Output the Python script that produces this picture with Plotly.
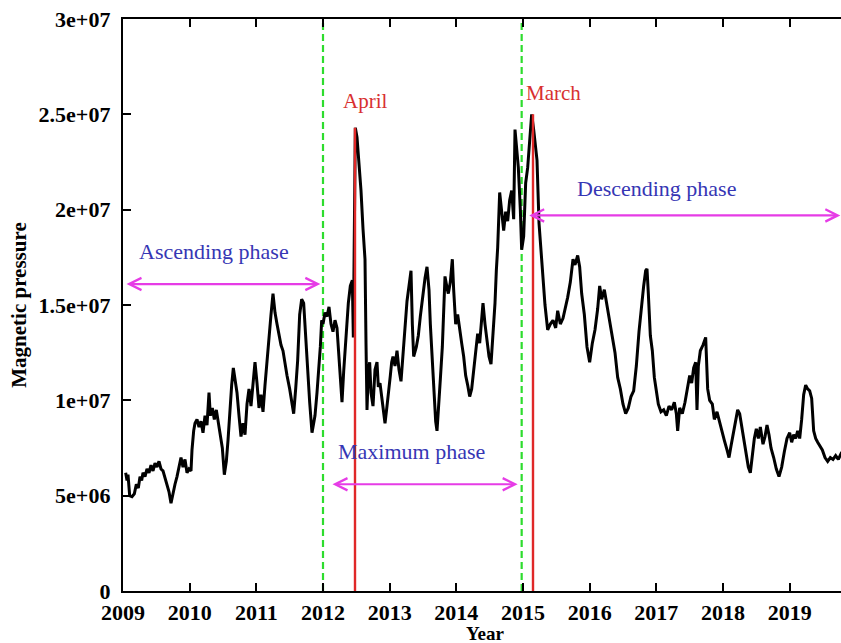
import plotly.graph_objects as go

# Magnetic pressure time series (year, value in units of 1e6)
years = [
    2009.04, 2009.06, 2009.075, 2009.10, 2009.135, 2009.17, 2009.20, 2009.23, 2009.255, 2009.28,
    2009.30, 2009.33, 2009.36, 2009.39, 2009.42, 2009.45, 2009.48, 2009.51, 2009.54, 2009.57,
    2009.60, 2009.63, 2009.66, 2009.69, 2009.72, 2009.75, 2009.78, 2009.81, 2009.84, 2009.87,
    2009.90, 2009.93, 2009.96, 2009.99, 2010.02, 2010.035, 2010.06, 2010.08, 2010.11, 2010.14,
    2010.17, 2010.20, 2010.23, 2010.26, 2010.29, 2010.31, 2010.34, 2010.37, 2010.40, 2010.43,
    2010.46, 2010.49, 2010.52, 2010.55, 2010.575, 2010.60, 2010.63, 2010.655, 2010.68, 2010.71,
    2010.74, 2010.77, 2010.80, 2010.83, 2010.86, 2010.89, 2010.92, 2010.95, 2010.98, 2011.01,
    2011.04, 2011.07, 2011.10, 2011.13, 2011.16, 2011.19, 2011.22, 2011.25, 2011.28, 2011.31,
    2011.34, 2011.37, 2011.40, 2011.43, 2011.46, 2011.50, 2011.53, 2011.56, 2011.59, 2011.62,
    2011.65, 2011.68, 2011.71, 2011.74, 2011.77, 2011.80, 2011.835, 2011.86, 2011.88, 2011.91,
    2011.94, 2011.96, 2011.98, 2012.00, 2012.03, 2012.06, 2012.09, 2012.12, 2012.15, 2012.18,
    2012.21, 2012.24, 2012.26, 2012.285, 2012.31, 2012.33, 2012.355, 2012.38, 2012.41, 2012.44,
    2012.455, 2012.47, 2012.485, 2012.51, 2012.54, 2012.57, 2012.60, 2012.63, 2012.645, 2012.66,
    2012.68, 2012.70, 2012.72, 2012.75, 2012.78, 2012.81, 2012.83, 2012.855, 2012.88, 2012.91,
    2012.93, 2012.96, 2012.98, 2013.01, 2013.03, 2013.05, 2013.08, 2013.11, 2013.14, 2013.17,
    2013.20, 2013.23, 2013.26, 2013.29, 2013.32, 2013.34, 2013.36, 2013.40, 2013.43, 2013.46,
    2013.50, 2013.53, 2013.56, 2013.59, 2013.61, 2013.64, 2013.66, 2013.69, 2013.71, 2013.74,
    2013.76, 2013.79, 2013.81, 2013.83, 2013.86, 2013.88, 2013.91, 2013.94, 2013.96, 2013.99,
    2014.02, 2014.05, 2014.08, 2014.11, 2014.14, 2014.17, 2014.20, 2014.23, 2014.26, 2014.29,
    2014.32, 2014.35, 2014.38, 2014.40, 2014.43, 2014.46, 2014.49, 2014.52, 2014.55, 2014.58,
    2014.60, 2014.62, 2014.65, 2014.68, 2014.71, 2014.74, 2014.77, 2014.80, 2014.83, 2014.86,
    2014.88, 2014.91, 2014.93, 2014.96, 2014.98, 2015.01, 2015.04, 2015.07, 2015.10, 2015.13,
    2015.16, 2015.18, 2015.21, 2015.24, 2015.27, 2015.30, 2015.33, 2015.37, 2015.41, 2015.45,
    2015.49, 2015.52, 2015.56, 2015.60, 2015.64, 2015.67, 2015.71, 2015.75, 2015.78, 2015.82,
    2015.85, 2015.88, 2015.92, 2015.96, 2016.00, 2016.04, 2016.08, 2016.12, 2016.15, 2016.18,
    2016.22, 2016.26, 2016.30, 2016.34, 2016.38, 2016.42, 2016.46, 2016.50, 2016.54, 2016.58,
    2016.62, 2016.66, 2016.70, 2016.74, 2016.78, 2016.81, 2016.84, 2016.86, 2016.88, 2016.91,
    2016.94, 2016.97, 2017.00, 2017.03, 2017.07, 2017.11, 2017.15, 2017.19, 2017.23, 2017.27,
    2017.30, 2017.32, 2017.35, 2017.39, 2017.43, 2017.47, 2017.50, 2017.53, 2017.56, 2017.59,
    2017.61, 2017.63, 2017.66, 2017.70, 2017.74, 2017.77, 2017.80, 2017.84, 2017.87, 2017.91,
    2017.95, 2017.98, 2018.02, 2018.06, 2018.09, 2018.12, 2018.15, 2018.19, 2018.22, 2018.25,
    2018.28, 2018.31, 2018.34, 2018.38, 2018.41, 2018.44, 2018.47, 2018.50, 2018.53, 2018.56,
    2018.60, 2018.63, 2018.66, 2018.69, 2018.72, 2018.76, 2018.80, 2018.84, 2018.88, 2018.92,
    2018.96, 2019.00, 2019.03, 2019.06, 2019.09, 2019.12, 2019.15, 2019.18, 2019.21, 2019.24,
    2019.27, 2019.30, 2019.33, 2019.36, 2019.39, 2019.42, 2019.45, 2019.49, 2019.53, 2019.57,
    2019.61, 2019.65, 2019.69, 2019.73, 2019.77, 2019.80,
]

pressure_millions = [
    6.2, 5.8, 6.1, 5.0, 4.95, 5.1, 5.6, 5.4, 6.0, 5.8,
    6.2, 6.0, 6.4, 6.2, 6.6, 6.3, 6.7, 6.5, 6.8, 6.4,
    6.3, 5.9, 5.6, 5.2, 4.6, 5.2, 5.6, 6.0, 6.6, 7.0,
    6.5, 6.9, 6.2, 6.4, 6.3, 7.4, 8.4, 8.8, 9.0, 8.6,
    8.9, 8.3, 9.2, 8.7, 10.4, 9.2, 9.6, 9.0, 9.5, 8.9,
    8.2, 7.5, 6.1, 6.8, 7.9, 9.5, 10.8, 11.7, 11.2, 10.4,
    9.2, 8.1, 8.8, 8.2, 9.8, 10.6, 9.7, 11.0, 12.0, 10.9,
    9.6, 10.3, 9.4, 10.8, 12.1, 13.6, 14.5, 15.6, 14.6, 14.0,
    13.4, 12.9, 12.6, 11.8, 11.3, 10.6, 9.8, 9.3, 10.6, 12.1,
    14.5, 15.3, 15.1, 13.2, 11.4, 9.9, 8.3, 8.7, 9.2, 10.4,
    11.8, 12.8, 14.2, 14.0, 14.6, 14.4, 14.9, 14.0, 13.6, 14.2,
    13.8, 12.0, 10.8, 9.9, 11.5, 12.6, 14.0, 15.1, 16.0, 16.3,
    13.3, 22.0, 24.3, 23.8, 22.6, 21.0, 19.0, 17.4, 13.0, 9.5,
    11.5, 12.0, 10.4, 9.7, 11.6, 12.0, 10.7, 10.9, 10.2, 9.3,
    8.8, 9.7, 10.5, 11.3, 12.0, 12.3, 11.8, 12.6, 11.6, 11.0,
    12.4, 14.0, 15.2, 16.0, 16.8, 14.0, 12.3, 12.8, 13.4, 14.4,
    15.6, 16.4, 17.0, 15.8, 14.0, 12.0, 10.2, 8.9, 8.4, 9.8,
    11.1, 12.8, 15.0, 16.5, 15.9, 15.6, 16.2, 17.4, 15.8, 14.0,
    14.5, 13.6, 13.0, 12.3, 11.3, 10.8, 10.2, 10.6, 11.6, 12.3,
    13.5, 13.0, 14.2, 15.1, 14.0, 13.0, 12.3, 11.9, 13.5, 15.1,
    16.8, 18.0, 20.9, 19.8, 18.9, 19.9, 19.4, 20.5, 21.0, 19.5,
    24.2, 23.0, 22.2, 20.0, 17.9, 18.6, 21.4, 22.2, 23.8, 25.0,
    24.2, 23.5, 22.6, 19.3, 17.8, 16.5, 15.0, 13.7, 14.0, 14.2,
    13.8, 14.7, 14.0, 14.3, 14.9, 15.4, 16.2, 17.4, 17.1, 17.6,
    17.0, 15.6, 14.5, 12.8, 12.0, 13.0, 13.7, 14.8, 16.0, 15.3,
    15.8, 15.0, 14.0, 13.2, 12.5, 11.2, 10.6, 9.8, 9.3, 9.6,
    10.2, 10.5, 11.8, 13.6, 15.2, 16.0, 16.8, 16.9, 15.6, 13.4,
    12.6, 11.2, 10.5, 9.8, 9.4, 9.5, 9.2, 9.7, 9.5, 9.9,
    9.3, 8.4, 9.6, 9.3, 9.9, 10.6, 11.3, 10.9, 11.7, 12.0,
    9.5, 11.8, 12.6, 12.9, 13.3, 10.6, 10.0, 9.8, 9.0, 9.4,
    8.8, 8.4, 7.9, 7.4, 7.0, 7.6, 8.2, 8.9, 9.5, 9.3,
    8.6, 8.0, 7.2, 6.5, 6.2, 7.2, 8.0, 8.5, 8.0, 8.6,
    7.7, 8.1, 8.7, 8.2, 7.5, 7.0, 6.4, 6.0, 6.5, 7.3,
    8.0, 8.3, 7.8, 8.2, 8.0, 8.4, 8.0, 9.0, 10.3, 10.8,
    10.6, 10.5, 10.1, 8.4, 8.0, 7.8, 7.6, 7.4, 7.0, 6.8,
    7.0, 6.9, 7.1, 6.9, 7.2, 7.1,
]
pressure = [v * 1e6 for v in pressure_millions]

# Phase boundaries (green dashed) and peak months (red)
phase_bounds = [2012.0, 2014.98]
peak_years = [2012.48, 2015.15]
peak_values = [24.3e6, 25.0e6]
peak_labels = ["April", "March"]
peak_label_x = [2012.63, 2015.46]
peak_label_y = [25.7e6, 26.1e6]

# Phase arrows: start, end, height; phase labels
phase_names = ["Ascending phase", "Maximum phase", "Descending phase"]
arrow_start = [2009.03, 2012.12, 2015.07]
arrow_end = [2011.96, 2014.92, 2019.76]
arrow_y = [16.1e6, 5.6e6, 19.7e6]
label_x = [2010.36, 2013.32, 2017.0]
label_y = [17.8e6, 7.3e6, 21.1e6]

x_ticks = list(range(2009, 2020))
y_ticks = [0, 5e6, 1e7, 1.5e7, 2e7, 2.5e7, 3e7]
y_tick_text = ["0", "5e+06", "1e+07", "1.5e+07", "2e+07", "2.5e+07", "3e+07"]

SERIF = "Liberation Serif, Times New Roman, serif"

fig = go.Figure()

for xb in phase_bounds:
    fig.add_trace(go.Scatter(
        x=[xb, xb], y=[0, 3e7], mode="lines",
        line=dict(color="#2edc2e", width=2.2, dash="7px,4px"),
        showlegend=False, hoverinfo="skip",
    ))

fig.add_trace(go.Scatter(
    x=years, y=pressure, mode="lines",
    line=dict(color="black", width=3),
    showlegend=False,
))

for xp, vp in zip(peak_years, peak_values):
    fig.add_trace(go.Scatter(
        x=[xp, xp], y=[0, vp], mode="lines",
        line=dict(color="#e02828", width=2.4),
        showlegend=False, hoverinfo="skip",
    ))

annotations = []
for xs, xe, ya in zip(arrow_start, arrow_end, arrow_y):
    annotations.append(dict(
        x=xe, y=ya, ax=xs, ay=ya, xref="x", yref="y", axref="x", ayref="y",
        text="", showarrow=True, arrowhead=5, arrowside="end+start",
        arrowsize=1.1, arrowwidth=2.2, arrowcolor="#e63ce6",
    ))
for name, lx, ly in zip(phase_names, label_x, label_y):
    annotations.append(dict(
        x=lx, y=ly, xref="x", yref="y", text=name, showarrow=False,
        font=dict(family=SERIF, size=22, color="#3636b4"),
    ))
for name, lx, ly in zip(peak_labels, peak_label_x, peak_label_y):
    annotations.append(dict(
        x=lx, y=ly, xref="x", yref="y", text=name, showarrow=False,
        font=dict(family=SERIF, size=21, color="#d83030"),
    ))
# x-axis title, placed below the tick labels
annotations.append(dict(
    x=0.505, y=0, xref="paper", yref="paper", xanchor="center", yanchor="top",
    yshift=-30, text="Year", showarrow=False,
    font=dict(family=SERIF, size=19, color="black", weight="bold"),
))

fig.update_layout(
    width=841, height=643,
    margin=dict(l=123, r=0, t=19, b=52),
    plot_bgcolor="white", paper_bgcolor="white",
    annotations=annotations,
    xaxis=dict(
        range=[2009, 2019.77], tickvals=x_ticks, ticktext=[str(t) for t in x_ticks],
        ticks="inside", ticklen=8, tickwidth=2, tickcolor="black",
        showline=True, linewidth=2.4, linecolor="black", mirror="ticks",
        showgrid=False, zeroline=False, ticklabelstandoff=0, automargin=False,
        tickfont=dict(family=SERIF, size=22, color="black", weight="bold"),
    ),
    yaxis=dict(
        range=[0, 3e7], tickvals=y_ticks, ticktext=y_tick_text,
        ticks="inside", ticklen=8, tickwidth=2, tickcolor="black",
        showline=True, linewidth=2.4, linecolor="black", mirror=False,
        showgrid=False, zeroline=False, ticklabelstandoff=6, automargin=False,
        tickfont=dict(family=SERIF, size=22, color="black", weight="bold"),
        title=dict(text="Magnetic pressure", standoff=6,
                   font=dict(family=SERIF, size=21, color="black", weight="bold")),
    ),
)

fig.write_html("out.html")
